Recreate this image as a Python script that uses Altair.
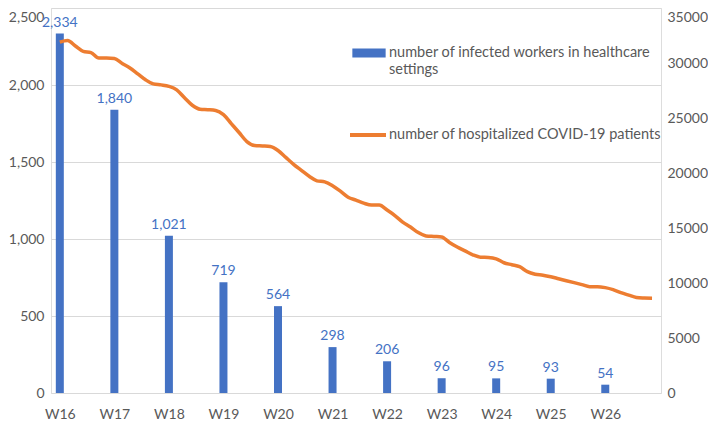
import altair as alt
import pandas as pd

weeks = ["W16", "W17", "W18", "W19", "W20", "W21", "W22", "W23", "W24", "W25", "W26"]
infected = [2334, 1840, 1021, 719, 564, 298, 206, 96, 95, 93, 54]

# daily number of hospitalized patients, starting on the first day of W16
hospitalized = [
    31900, 32040, 31540, 31060, 30950, 30450, 30450,
    30410, 29960, 29550, 29010, 28470, 28100, 28010,
    27880, 27560, 26840, 26160, 25800, 25760, 25690,
    25300, 24490, 23680, 22860, 22500, 22460, 22410,
    22050, 21420, 20790, 20240, 19700, 19290, 19190,
    18840, 18350, 17800, 17530, 17260, 17080, 17080,
    16630, 16130, 15540, 15090, 14590, 14280, 14230,
    14190, 13690, 13280, 12920, 12560, 12340, 12320,
    12200, 11840, 11660, 11480, 11030, 10800, 10710,
    10570, 10390, 10210, 10030, 9850, 9670, 9670,
    9580, 9400, 9130, 8900, 8680, 8630, 8610,
]

left_ticks = [0, 500, 1000, 1500, 2000, 2500]
right_ticks = [0, 5000, 10000, 15000, 20000, 25000, 30000, 35000]

bar_series = "number of infected workers in healthcare settings"
line_series = "number of hospitalized COVID-19 patients"

BLUE = "#4472C4"
ORANGE = "#ED7D31"
GREY = "#595959"
FONT = "Lato"
FS = 14
LEG_FS = 14.5

week_pos = [int(w[1:]) for w in weeks]
bars_df = pd.DataFrame({"pos": week_pos, "infected": infected, "series": bar_series})
line_df = pd.DataFrame({
    "pos": [week_pos[0] + i / 7 for i in range(len(hospitalized))],
    "patients": hospitalized,
    "series": line_series,
})

x_scale = alt.Scale(domain=[15.93, 26.93], nice=False, zero=False)
x_axis = alt.Axis(
    title=None, values=week_pos, labelExpr="'W' + datum.value",
    domain=False, ticks=False, grid=False, labelFlush=False,
    labelFont=FONT, labelFontSize=FS, labelColor=GREY, labelPadding=14,
)
left_scale = alt.Scale(domain=[0, 2500], nice=False)
left_axis = alt.Axis(
    title=None, values=left_ticks, format=",d", orient="left",
    domain=False, ticks=False, grid=True, gridColor="#D9D9D9",
    labelFont=FONT, labelFontSize=FS, labelColor=GREY, labelPadding=7,
    labelBaseline={"condition": {"test": "datum.value == 2500", "value": "top"}, "value": "middle"},
    labelOffset={"condition": {"test": "datum.value == 2500", "value": 2}, "value": 0},
)

first_line, second_line = bar_series.rsplit(" ", 1)

bars = alt.Chart(bars_df).mark_bar(size=8).encode(
    x=alt.X("pos:Q", scale=x_scale, axis=x_axis),
    y=alt.Y("infected:Q", scale=left_scale, axis=left_axis),
    color=alt.Color(
        "series:N",
        scale=alt.Scale(domain=[bar_series], range=[BLUE]),
        legend=alt.Legend(
            title=None, orient="none", legendX=300, legendY=27, padding=0,
            symbolType="M-0.925,-0.25H0.925V0.25H-0.925Z", symbolSize=1296,
            symbolStrokeWidth=0,
            labelExpr=f"['{first_line}', '{second_line}']",
            labelFont=FONT, labelFontSize=LEG_FS, labelColor=GREY, labelLimit=0, labelOffset=2,
        ),
    ),
)

labels = alt.Chart(bars_df).mark_text(
    baseline="alphabetic", dy=-7, font=FONT, fontSize=FS, color=BLUE
).encode(
    x=alt.X("pos:Q", scale=x_scale, axis=x_axis),
    y=alt.Y("infected:Q", scale=left_scale, axis=left_axis),
    text=alt.Text("infected:Q", format=","),
)

line = alt.Chart(line_df).mark_line(strokeWidth=3.5, interpolate="monotone").encode(
    x=alt.X("pos:Q", scale=x_scale, axis=x_axis),
    y=alt.Y(
        "patients:Q",
        scale=alt.Scale(domain=[0, 35000], nice=False),
        axis=alt.Axis(
            title=None, values=right_ticks, format="d", orient="right",
            domain=False, ticks=False, grid=False,
            labelFont=FONT, labelFontSize=FS, labelColor=GREY, labelPadding=6,
            labelBaseline={"condition": {"test": "datum.value == 35000", "value": "top"}, "value": "middle"},
            labelOffset={"condition": {"test": "datum.value == 35000", "value": 2}, "value": 0},
        ),
    ),
    stroke=alt.Stroke(
        "series:N",
        scale=alt.Scale(domain=[line_series], range=[ORANGE]),
        legend=alt.Legend(
            title=None, orient="none", legendX=297, legendY=107, padding=0,
            symbolType="stroke", symbolSize=1296, symbolStrokeWidth=4,
            labelFont=FONT, labelFontSize=LEG_FS, labelColor=GREY, labelLimit=0, labelOffset=1,
        ),
    ),
)

left = alt.layer(bars, labels)
chart = alt.layer(left, line).resolve_scale(y="independent").properties(
    width=610, height=385,
    autosize=alt.AutoSizeParams(type="none"),
    padding={"left": 43, "right": 47, "top": 0, "bottom": 28},
).configure_view(stroke=None).configure(background="white")

chart.save("out.html", embed_options={"renderer": "svg", "actions": False})
